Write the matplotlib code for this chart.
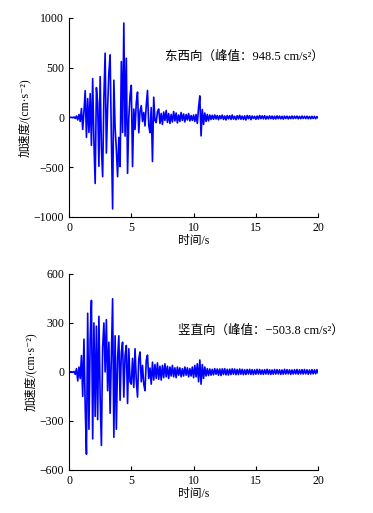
import matplotlib
matplotlib.use("Agg")
import matplotlib.pyplot as plt
import numpy as np

plt.rcParams['font.family'] = ['Liberation Serif', 'Noto Sans CJK SC', 'DejaVu Serif']
plt.rcParams['axes.unicode_minus'] = True

# sample interval of the digitised record, s
dt = 0.1

# east-west acceleration, cm/s^2 (one value per dt)
acc_ew = [
    0, 0, 2, -3, 5,  -10, 15, -25, 30, -40,
    90, -120, 60, 270, -200,  190, -150, 240, -280, 390,
    -250, -663, 300, 150, -490,  410, -300, -595, 200, 646,
    -357, 100, 450, 629, -200,  -918, 374, -100, -323, -595,
    -200, -493, 561, -150, 948.5,  -187, 595, -561, 0, 221,
    323, -493, 85, -120, 150,  255, -153, 60, 119, -40,
    50, -85, 120, 272, -80,  -153, 100, -442, 204, -30,
    -51, 60, 85, -60, 40,  -70, 55, -30, 70, -50,
    40, -60, 30, -45, 60,  -35, 45, -55, 25, -40,
    50, -30, 35, -45, 30,  -25, 40, -35, 20, -30,
    25, -40, 30, -60, 100,  217, -185, 80, -70, 45,
    -40, 30, -35, 25, -20,  22, -18, 25, -15, 20,
    -22, 18, -12, 24, -20,  15, -25, 20, -14, 18,
    -20, 25, -16, 12, -22,  18, -15, 22, -18, 14,
    -20, 16, -25, 20, -12,  18, -22, 15, -10, 12,
    -18, 14, -16, 20, -12,  16, -14, 18, -16, 12,
    -14, 16, -12, 14, -16,  13, -15, 16, -12, 14,
    -13, 12, -16, 14, -11,  13, -14, 11, -12, 15,
    -12, 13, -10, 14, -13,  11, -12, 14, -10, 12,
    -11, 13, -12, 10, -13,  12, -10, 11, -12, 9,
    -6,
]

# vertical acceleration, cm/s^2
acc_ud = [
    0, 0, 1, -2, 3,  -15, 20, -55, 30, -40,
    100, -150, 200, -213, -503.8,  359, -351, 200, 438, -410,
    300, -272, 280, -292, 340,  -154, -450, 150, 300, 0,
    320, -115, 182, -253, 100,  448, -400, 221, -351, 83,
    221, -174, 120, 182, -154,  100, 162, -193, 142, -60,
    -75, 83, -95, 142, -50,  -154, 80, 122, -60, 40,
    -75, -115, 70, 103, -40,  24, -75, 60, -50, 45,
    -40, 55, -45, 35, -50,  40, -35, 50, -30, 35,
    -40, 30, -25, 40, -30,  25, -35, 30, -20, 25,
    -30, 20, -25, 30, -20,  25, -30, 20, -25, 30,
    -35, 40, -30, 50, -60,  73, -75, 45, -40, 30,
    -25, 20, -22, 18, -20,  16, -18, 20, -14, 18,
    -20, 18, -22, 19, -16,  20, -18, 16, -19, 17,
    -16, 19, -14, 18, -17,  15, -16, 18, -14, 16,
    -17, 14, -16, 15, -13,  16, -15, 14, -16, 13,
    -14, 16, -13, 15, -14,  12, -15, 14, -13, 16,
    -14, 13, -15, 12, -14,  15, -13, 14, -12, 13,
    -15, 12, -14, 16, -13,  14, -12, 13, -15, 12,
    -13, 14, -12, 15, -14,  13, -12, 14, -13, 15,
    -12, 13, -14, 12, -13,  14, -12, 13, -11, 14,
    -6,
]

t_ew = np.arange(len(acc_ew)) * dt
t_ud = np.arange(len(acc_ud)) * dt

fig = plt.figure(figsize=(3.73, 5.13), dpi=100)
ax1 = fig.add_axes([0.185, 0.577, 0.668, 0.388])
ax2 = fig.add_axes([0.185, 0.084, 0.668, 0.382])

fs = 8.5

def style(ax, ylim, yticks):
    ax.set_xlim(0, 20)
    ax.set_ylim(*ylim)
    ax.set_xticks([0, 5, 10, 15, 20])
    ax.set_yticks(yticks)
    ax.spines['top'].set_visible(False)
    ax.spines['right'].set_visible(False)
    ax.tick_params(direction='in', length=3, labelsize=fs, width=0.8)
    ax.set_xlabel('时间/s', fontsize=fs, labelpad=1)
    ax.set_ylabel('加速度/(cm·s⁻²)', fontsize=fs, labelpad=2)

ax1.plot(t_ew, acc_ew, color='#0000ff', lw=1.2)
style(ax1, (-1000, 1000), [-1000, -500, 0, 500, 1000])
ax1.text(7.7, 608, '东西向（峰值：948.5 cm/s²）', fontsize=9, va='center')

ax2.plot(t_ud, acc_ud, color='#0000ff', lw=1.2)
style(ax2, (-600, 600), [-600, -300, 0, 300, 600])
ax2.text(8.75, 251, '竖直向（峰值：−503.8 cm/s²）', fontsize=9, va='center')

fig.savefig('out.png', dpi=100)
